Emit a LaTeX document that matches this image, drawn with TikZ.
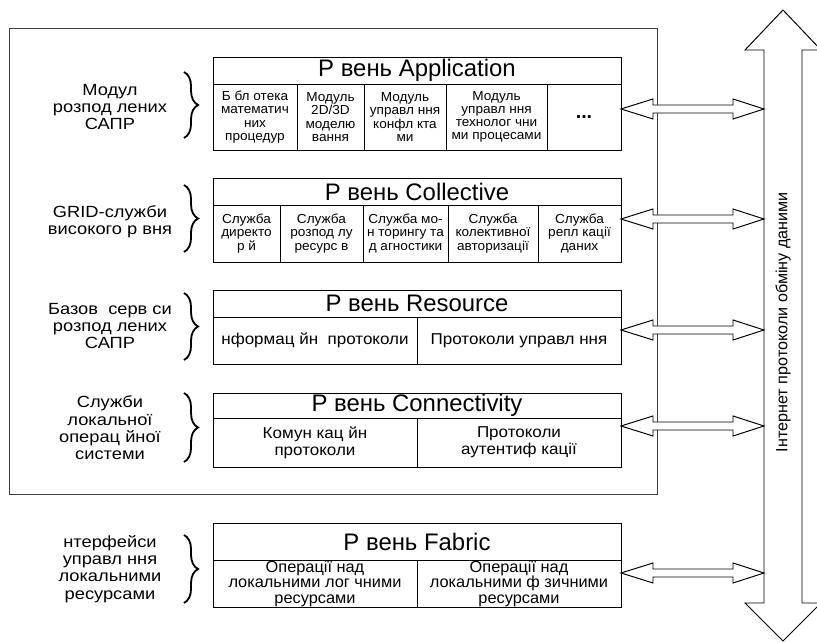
\documentclass[tikz,border=0pt]{standalone}
\usepackage{fontspec}
\setmainfont{Liberation Sans}
\usetikzlibrary{decorations.pathreplacing}

\newcommand{\hlink}[1]{\draw[arr] (#1) -- ++(32,10) -- ++(0,-6) -- ++(80,0) -- ++(0,6) -- ++(31,-10) -- ++(-31,-10) -- ++(0,6) -- ++(-80,0) -- ++(0,-6) -- cycle;}

\begin{document}
\begin{tikzpicture}[x=0.025cm, y=-0.025cm,
  box/.style={line width=0.7pt},
  frame/.style={line width=0.7pt, black!75},
  ttl/.style={font=\fontsize{17}{18}\selectfont},
  cell/.style={align=center, xscale=1.04, font=\fontsize{9.3}{9.4}\selectfont},
  wcell/.style={align=center, xscale=1.08, font=\fontsize{11.2}{12}\selectfont},
  fcell/.style={align=center, xscale=1.02, font=\fontsize{11.4}{11}\selectfont},
  lbl/.style={align=center, xscale=1.13, font=\fontsize{11.5}{12.3}\selectfont},
  brc/.style={decorate, decoration={brace, amplitude=10}, line width=1.3pt},
  arr/.style={line width=0.7pt, fill=white}]
\useasboundingbox (0,0) rectangle (817,642);

\draw[frame] (9,28) rectangle (657,494);

\draw[box] (213,57) rectangle (621,150);
\draw[box] (213,84) -- (621,84);
\foreach \x in {297,364,446,547} \draw[box] (\x,84) -- (\x,150);
\node[ttl] (app) at (417,70.5) {Р вень Application};
\node[cell] (app1) at (255,117) {Б бл отека\\математич\\них\\процедур};
\node[cell] (app2) at (330.5,117) {Модуль\\2D/3D\\моделю\\вання};
\node[cell] (app3) at (405,117) {Модуль\\управл ння\\конфл кта\\ми};
\node[cell] (app4) at (496.5,117) {Модуль\\управл ння\\технолог чни\\ми процесами};
\node[font=\fontsize{14}{14}\selectfont\bfseries] (app5) at (584,117) {...};

\draw[box] (213,178) rectangle (621,262);
\draw[box] (213,205) -- (621,205);
\foreach \x in {280,363,448,538} \draw[box] (\x,205) -- (\x,262);
\node[ttl] (col) at (417,191.5) {Р вень Collective};
\node[cell] (col1) at (246.5,233.5) {Служба\\директо\\р й};
\node[cell] (col2) at (321.5,233.5) {Служба\\розпод лу\\ресурс в};
\node[cell] (col3) at (405.5,233.5) {Служба мо-\\н торингу та\\д агностики};
\node[cell] (col4) at (493,233.5) {Служба\\колективної\\авторизації};
\node[cell] (col5) at (579.5,233.5) {Служба\\репл кації\\даних};

\draw[box] (213,290) rectangle (621,364);
\draw[box] (213,317) -- (621,317);
\draw[box] (417,317) -- (417,364);
\node[ttl] (res) at (417,303.5) {Р вень Resource};
\node[wcell] (res1) at (315,340.5) {нформац йн~ протоколи};
\node[wcell] (res2) at (519,340.5) {Протоколи управл ння};

\draw[box] (213,393) rectangle (621,467);
\draw[box] (213,418) -- (621,418);
\draw[box] (417,418) -- (417,467);
\node[ttl] (con) at (417,405.5) {Р вень Connectivity};
\node[wcell] (con1) at (315,442.5) {Комун кац йн\\протоколи};
\node[wcell] (con2) at (519,442.5) {Протоколи\\аутентиф кації};

\draw[box] (213,523) rectangle (621,607);
\draw[box] (213,560) -- (621,560);
\draw[box] (417,560) -- (417,607);
\node[ttl] (fab) at (417,541.5) {Р вень Fabric};
\node[fcell] (fab1) at (315,583.5) {Операції над\\локальними лог чними\\ресурсами};
\node[fcell] (fab2) at (519,583.5) {Операції над\\локальними ф зичними\\ресурсами};

\node[lbl] (lapp) at (110,107) {Модул\\розпод лених\\САПР};
\node[lbl] (lcol) at (110,222) {GRID-служби\\високого р вня};
\node[lbl] (lres) at (110,326) {Базов~ серв си\\розпод лених\\САПР};
\node[lbl] (lcon) at (110,428) {Служби\\локальної\\операц йної\\системи};
\node[lbl] (lfab) at (110,569) {нтерфейси\\управл ння\\локальними\\ресурсами};

\draw[brc] (184,72) -- (184,138);
\draw[brc] (184,185) -- (184,252);
\draw[brc] (184,293) -- (184,360);
\draw[brc] (184,393) -- (184,462);
\draw[brc] (184,535) -- (184,603);

\draw[arr] (764,50) -- (745,50) -- (783,10) -- (821,50) -- (802,50) -- (802,603) -- (821,603) -- (783,641) -- (745,603) -- (764,603) -- cycle;
\node[rotate=90, font=\fontsize{11.5}{12}\selectfont] (bus) at (783,322) {Інтернет протоколи обміну даними};

\coordinate (appE) at (621,109);
\coordinate (colE) at (621,219);
\coordinate (resE) at (621,330);
\coordinate (conE) at (621,426);
\coordinate (fabE) at (621,573);
\hlink{appE}
\hlink{colE}
\hlink{resE}
\hlink{conE}
\hlink{fabE}
\end{tikzpicture}
\end{document}
